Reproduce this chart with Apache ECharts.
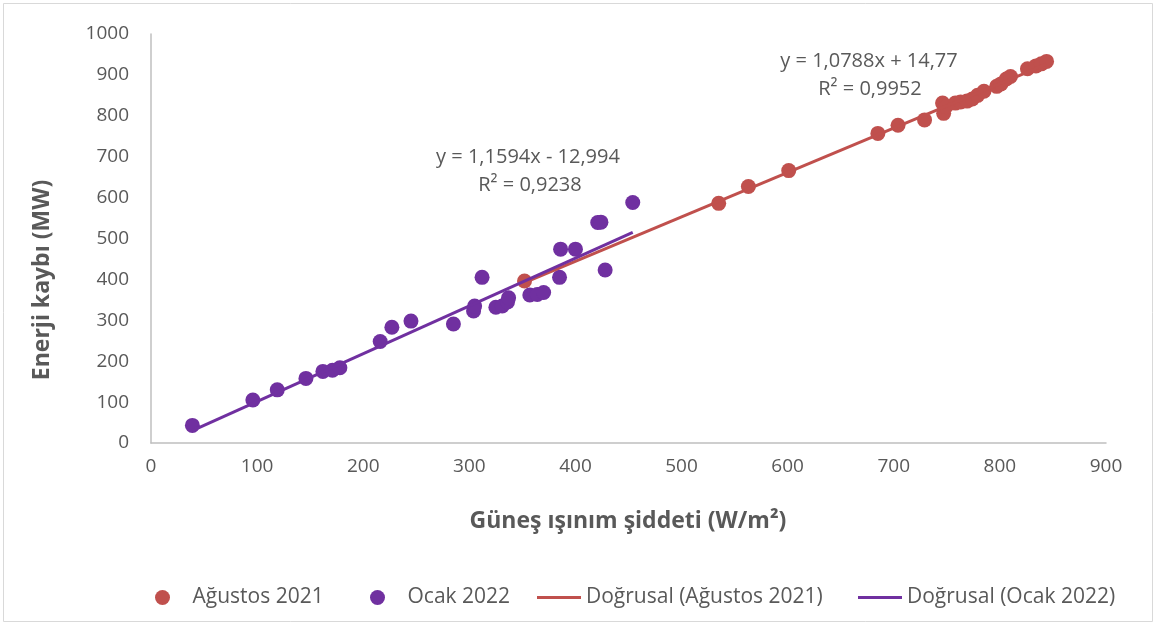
<!DOCTYPE html>
<html>
<head>
<meta charset="utf-8">
<script src="https://cdn.jsdelivr.net/npm/echarts@6/dist/echarts.min.js"></script>
<style>
html,body{margin:0;padding:0;background:#fff;}
#chart{width:1156px;height:625px;}
</style>
</head>
<body>
<div id="chart"></div>
<script>
// ---- Data ----
const seriesNames = ['Ağustos 2021', 'Ocak 2022', 'Doğrusal (Ağustos 2021)', 'Doğrusal (Ocak 2022)'];
const xTicks = [0, 100, 200, 300, 400, 500, 600, 700, 800, 900];
const yTicks = [0, 100, 200, 300, 400, 500, 600, 700, 800, 900, 1000];
const xAxisTitle = 'Güneş ışınım şiddeti (W/m²)';
const yAxisTitle = 'Enerji kaybı (MW)';
const augustData = [
  [352, 396], [535, 586], [563, 627], [601, 666], [685, 757], [704, 777],
  [729, 790], [746, 831], [747, 806], [749, 822], [758, 831], [763, 834],
  [769, 836], [774, 841], [779, 850], [785, 860], [797, 872], [801, 878],
  [806, 890], [810, 896], [826, 915], [834, 922], [839, 927], [844, 933]
];
const januaryData = [
  [39, 43], [96, 105], [119, 130], [146, 158], [162, 175], [171, 178],
  [178, 184], [216, 248], [227, 283], [245, 298], [285, 291], [304, 323],
  [305, 335], [312, 405], [325, 332], [331, 335], [336, 345], [337, 355],
  [357, 362], [364, 363], [370, 368], [385, 405], [386, 474], [400, 474],
  [421, 539], [424, 540], [428, 423], [454, 588]
];
const augustEq = ['y = 1,0788x + 14,77', 'R² = 0,9952'];
const januaryEq = ['y = 1,1594x - 12,994', 'R² = 0,9238'];

// ---- least squares trend line ----
function trend(data) {
  const n = data.length;
  let sx = 0, sy = 0, sxx = 0, sxy = 0;
  data.forEach(([x, y]) => { sx += x; sy += y; sxx += x * x; sxy += x * y; });
  const b = (n * sxy - sx * sy) / (n * sxx - sx * sx);
  const a = (sy - b * sx) / n;
  const xs = data.map(d => d[0]);
  const x0 = Math.min(...xs), x1 = Math.max(...xs);
  return [[x0, a + b * x0], [x1, a + b * x1]];
}

const RED = '#C0504D', PURPLE = '#7030A0', TXT = '#595959';
const FONT = 'Open Sans';
const LINE_ICON = 'path://M0,0 L44,0 L44,3 L0,3 Z';
const legendLefts = [150, 365, 532, 853];
const legendIcons = ['circle', 'circle', LINE_ICON, LINE_ICON];
const legendWidths = [50, 50, 44, 44];

const chart = echarts.init(document.getElementById('chart'));
chart.setOption({
  animation: false,
  backgroundColor: '#fff',
  grid: { left: 151, right: 50, top: 34, bottom: 182 },
  xAxis: {
    type: 'value', min: xTicks[0], max: xTicks[xTicks.length - 1], interval: 100,
    axisLine: { show: true, lineStyle: { color: '#BFBFBF', width: 1.5 } },
    axisTick: { show: false },
    splitLine: { show: false },
    axisLabel: { color: TXT, fontSize: 19, fontFamily: FONT, margin: 14, formatter: v => String(v) }
  },
  yAxis: {
    type: 'value', min: yTicks[0], max: yTicks[yTicks.length - 1], interval: 100,
    axisLine: { show: true, lineStyle: { color: '#BFBFBF', width: 1.5 } },
    axisTick: { show: false },
    splitLine: { show: false },
    axisLabel: { color: TXT, fontSize: 19, fontFamily: FONT, margin: 22, formatter: v => String(v) }
  },
  legend: seriesNames.map((name, i) => ({
    left: legendLefts[i], bottom: 12, itemWidth: legendWidths[i], itemHeight: 15,
    textStyle: { color: TXT, fontSize: 21, fontFamily: FONT },
    data: [{ name: name, icon: legendIcons[i] }]
  })),
  graphic: [
    { type: 'rect', silent: true, shape: { x: 3.5, y: 3.5, width: 1149, height: 618 },
      style: { fill: 'none', stroke: '#D9D9D9', lineWidth: 1 } },
    { type: 'text', x: 628, y: 521, style: { text: xAxisTitle, fill: TXT, font: 'bold 23px ' + FONT, align: 'center', verticalAlign: 'middle' } },
    { type: 'text', x: 42, y: 280, rotation: Math.PI / 2, style: { text: yAxisTitle, fill: TXT, font: 'bold 23px ' + FONT, align: 'center', verticalAlign: 'middle' } },
    { type: 'text', x: 528, y: 157, style: { text: januaryEq[0], fill: TXT, font: '20px ' + FONT, align: 'center', verticalAlign: 'middle' } },
    { type: 'text', x: 530, y: 185, style: { text: januaryEq[1], fill: TXT, font: '20px ' + FONT, align: 'center', verticalAlign: 'middle' } },
    { type: 'text', x: 869, y: 61, style: { text: augustEq[0], fill: TXT, font: '20px ' + FONT, align: 'center', verticalAlign: 'middle' } },
    { type: 'text', x: 870, y: 89, style: { text: augustEq[1], fill: TXT, font: '20px ' + FONT, align: 'center', verticalAlign: 'middle' } }
  ],
  series: [
    { name: seriesNames[0], type: 'scatter', data: augustData, symbolSize: 15, itemStyle: { color: RED, opacity: 1 }, z: 2 },
    { name: seriesNames[1], type: 'scatter', data: januaryData, symbolSize: 15, itemStyle: { color: PURPLE, opacity: 1 }, z: 3 },
    { name: seriesNames[2], type: 'line', data: trend(augustData), showSymbol: false, symbol: 'none', lineStyle: { color: RED, width: 3 }, itemStyle: { color: RED }, z: 4 },
    { name: seriesNames[3], type: 'line', data: trend(januaryData), showSymbol: false, symbol: 'none', lineStyle: { color: PURPLE, width: 3 }, itemStyle: { color: PURPLE }, z: 5 }
  ]
});
</script>
</body>
</html>
